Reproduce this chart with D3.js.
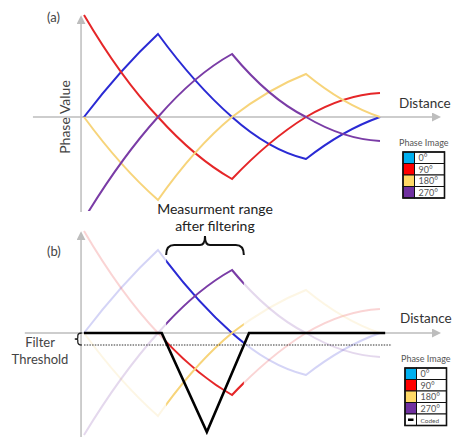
<!DOCTYPE html>
<html>
<head>
<meta charset="utf-8">
<script src="https://cdn.jsdelivr.net/npm/d3@7"></script>
<style>
  body { margin: 0; background: #fff; }
  svg { display: block; }
  text { font-family: Lato, "Open Sans", sans-serif; }
</style>
</head>
<body>
<div id="chart"></div>
<script>
// distance samples: segment ends and midpoints
var distance = [0, 0.5, 1, 1.5, 2, 2.5, 3, 3.5, 4];
var phase0   = [0, 0.45, 0.83, 0.37, 0, -0.27, -0.42, -0.17, 0];
var phase90  = [1.02, 0.45, 0, -0.36, -0.62, -0.27, 0, 0.17, 0.24];
var phase180 = [0, -0.46, -0.83, -0.36, 0, 0.25, 0.43, 0.17, 0];
var phase270 = [-1.02, -0.46, 0, 0.37, 0.63, 0.25, 0, -0.17, -0.24];

var phaseNames = ["0°", "90°", "180°", "270°"];
var lineColors = ["#2a2ad4", "#e52628", "#f7d47a", "#7a3ca6"];
var swatchColors = ["#00b0f0", "#ff0000", "#ffd966", "#7030a0"];

// coded (filter) line and threshold
var filterDist = [0, 1.05, 1.66, 2.23, 4.07];
var filterVal  = [0, 0, -0.99, 0, 0];
var thresholdVal = -0.12;
var measureRange = [1.11, 2.16];

var width = 453, height = 437;

var svg = d3.select("#chart")
  .append("svg")
  .attr("width", width)
  .attr("height", height);

var x = d3.scaleLinear().domain([0, 4]).range([84, 380]);
var yA = d3.scaleLinear().domain([-1, 1]).range([217, 17]);
var yB = d3.scaleLinear().domain([-1, 1]).range([433, 233]);

var series = [phase0, phase90, phase180, phase270];

var defs = svg.append("defs");
defs.append("marker")
  .attr("id", "arrow")
  .attr("viewBox", "0 0 10 10")
  .attr("refX", 8).attr("refY", 5)
  .attr("markerWidth", 9).attr("markerHeight", 9)
  .attr("markerUnits", "userSpaceOnUse")
  .attr("orient", "auto")
  .append("path")
  .attr("d", "M0,0 L10,5 L0,10 Z")
  .attr("fill", "#bdbdbd");

defs.append("clipPath").attr("id", "clipA")
  .append("rect")
  .attr("x", 0).attr("y", yA(1.04))
  .attr("width", width).attr("height", yA(-0.94) - yA(1.04));

defs.append("clipPath").attr("id", "clipRange")
  .append("rect")
  .attr("x", x(measureRange[0])).attr("y", 0)
  .attr("width", x(measureRange[1]) - x(measureRange[0])).attr("height", height);

// quadratic piece through each midpoint
function curvePath(xs, ys, y) {
  var p = d3.path();
  p.moveTo(x(xs[0]), y(ys[0]));
  for (var i = 1; i + 1 < xs.length; i += 2) {
    var sx = x(xs[i-1]), sy = y(ys[i-1]);
    var mx = x(xs[i]), my = y(ys[i]);
    var ex = x(xs[i+1]), ey = y(ys[i+1]);
    p.quadraticCurveTo(2*mx - (sx+ex)/2, 2*my - (sy+ey)/2, ex, ey);
  }
  return p.toString();
}

function drawAxes(y, xStart, yTop, yBottom) {
  svg.append("line")
    .attr("x1", x(xStart)).attr("x2", x(4.8))
    .attr("y1", y(0)).attr("y2", y(0))
    .attr("stroke", "#bdbdbd").attr("stroke-width", 1.5)
    .attr("marker-end", "url(#arrow)");
  svg.append("line")
    .attr("x1", x(-0.04)).attr("x2", x(-0.04))
    .attr("y1", y(yBottom)).attr("y2", y(yTop))
    .attr("stroke", "#bdbdbd").attr("stroke-width", 1.5)
    .attr("marker-end", "url(#arrow)");
}

function drawLegend(gx, gy, items) {
  var rowH = 11.5, swW = 11.5, labW = 30;
  var g = svg.append("g").attr("transform", "translate(" + gx + "," + gy + ")");
  g.append("text")
    .attr("x", (swW + labW) / 2).attr("y", -6)
    .attr("text-anchor", "middle")
    .attr("font-size", 9).attr("fill", "#555")
    .text("Phase Image");
  var row = g.selectAll("g.row").data(items).enter()
    .append("g").attr("class", "row")
    .attr("transform", function(d, i) { return "translate(0," + i * rowH + ")"; });
  row.append("rect")
    .attr("width", swW).attr("height", rowH)
    .attr("fill", function(d) { return d.color; })
    .attr("stroke", "#111").attr("stroke-width", 1);
  row.append("rect")
    .attr("x", swW).attr("width", labW).attr("height", rowH)
    .attr("fill", "#fff")
    .attr("stroke", "#111").attr("stroke-width", 1);
  row.filter(function(d) { return d.dash; })
    .append("line")
    .attr("x1", 3).attr("x2", swW - 3)
    .attr("y1", rowH / 2).attr("y2", rowH / 2)
    .attr("stroke", "#000").attr("stroke-width", 2.5);
  row.append("text")
    .attr("x", swW + 4).attr("y", rowH / 2 + 3.3)
    .attr("font-size", function(d) { return d.dash ? 6.5 : 9; })
    .attr("fill", "#555")
    .text(function(d) { return d.name; });
  g.append("rect")
    .attr("width", swW + labW).attr("height", rowH * items.length)
    .attr("fill", "none").attr("stroke", "#111").attr("stroke-width", 1.6);
}

// ---------- panel (a) ----------
drawAxes(yA, -0.69, 1.0, -0.95);

svg.append("g").attr("clip-path", "url(#clipA)")
  .selectAll("path")
  .data(series)
  .enter()
  .append("path")
  .attr("d", function(d) { return curvePath(distance, d, yA); })
  .attr("fill", "none")
  .attr("stroke", function(d, i) { return lineColors[i]; })
  .attr("stroke-width", 2);

svg.append("text").attr("x", 47).attr("y", 22)
  .attr("font-size", 13).attr("fill", "#444").text("(a)");

svg.append("text")
  .attr("transform", "translate(70," + yA(0) + ") rotate(-90)")
  .attr("text-anchor", "middle")
  .attr("font-size", 14).attr("fill", "#444")
  .text("Phase Value");

svg.append("text").attr("x", 399).attr("y", yA(0.09))
  .attr("font-size", 13.5).attr("fill", "#333").text("Distance");

drawLegend(403, 152, phaseNames.map(function(n, i) {
  return { name: n, color: swatchColors[i] };
}));

// ---------- panel (b) ----------
drawAxes(yB, -0.8, 1.0, -1.05);

svg.append("g")
  .selectAll("path")
  .data(series)
  .enter()
  .append("path")
  .attr("d", function(d) { return curvePath(distance, d, yB); })
  .attr("fill", "none")
  .attr("stroke", function(d, i) { return lineColors[i]; })
  .attr("stroke-opacity", 0.2)
  .attr("stroke-width", 2);

svg.append("g").attr("clip-path", "url(#clipRange)")
  .selectAll("path")
  .data(series)
  .enter()
  .append("path")
  .attr("d", function(d) { return curvePath(distance, d, yB); })
  .attr("fill", "none")
  .attr("stroke", function(d, i) { return lineColors[i]; })
  .attr("stroke-width", 2);

// threshold dotted line
svg.append("line")
  .attr("x1", x(0)).attr("x2", x(4.16))
  .attr("y1", yB(thresholdVal)).attr("y2", yB(thresholdVal))
  .attr("stroke", "#333").attr("stroke-width", 1)
  .attr("stroke-dasharray", "1.5,1.2");

// coded filter line
svg.append("path")
  .datum(d3.zip(filterDist, filterVal))
  .attr("d", d3.line()
    .x(function(d) { return x(d[0]); })
    .y(function(d) { return yB(d[1]); }))
  .attr("fill", "none")
  .attr("stroke", "#000")
  .attr("stroke-width", 2.6);

// threshold brace
var bx = x(-0.03), bt = yB(0), bb = yB(thresholdVal), bm = (bt + bb) / 2;
var tb = d3.path();
tb.moveTo(bx, bt);
tb.quadraticCurveTo(bx - 4, bt, bx - 4, bt + 3);
tb.lineTo(bx - 4, bm - 1);
tb.quadraticCurveTo(bx - 4, bm, bx - 7, bm);
tb.quadraticCurveTo(bx - 4, bm, bx - 4, bm + 1);
tb.lineTo(bx - 4, bb - 3);
tb.quadraticCurveTo(bx - 4, bb, bx, bb);
svg.append("path").attr("d", tb.toString())
  .attr("fill", "none").attr("stroke", "#222").attr("stroke-width", 1.3);

// measurement range brace
var l = x(measureRange[0]), r = x(measureRange[1]), c = (l + r) / 2;
var ylo = yB(0.78), yh = yB(0.88), ytop = yB(0.97);
var mb = d3.path();
mb.moveTo(l, ylo);
mb.quadraticCurveTo(l, yh, l + 8, yh);
mb.lineTo(c - 5, yh);
mb.quadraticCurveTo(c, yh, c, ytop);
mb.quadraticCurveTo(c, yh, c + 5, yh);
mb.lineTo(r - 8, yh);
mb.quadraticCurveTo(r, yh, r, ylo);
svg.append("path").attr("d", mb.toString())
  .attr("fill", "none").attr("stroke", "#111").attr("stroke-width", 2);

svg.append("text").attr("x", c + 10).attr("y", 214)
  .attr("text-anchor", "middle").attr("font-size", 14).attr("fill", "#222")
  .text("Measurment range");
svg.append("text").attr("x", c + 10).attr("y", 231)
  .attr("text-anchor", "middle").attr("font-size", 14).attr("fill", "#222")
  .text("after filtering");

svg.append("text").attr("x", 47).attr("y", 256)
  .attr("font-size", 13).attr("fill", "#444").text("(b)");

svg.append("text").attr("x", 400).attr("y", yB(0.1))
  .attr("font-size", 13.5).attr("fill", "#333").text("Distance");

svg.append("text").attr("x", 40).attr("y", 347)
  .attr("text-anchor", "middle").attr("font-size", 13).attr("fill", "#444")
  .text("Filter");
svg.append("text").attr("x", 40).attr("y", 364)
  .attr("text-anchor", "middle").attr("font-size", 13).attr("fill", "#444")
  .text("Threshold");

var legendB = phaseNames.map(function(n, i) {
  return { name: n, color: swatchColors[i] };
});
legendB.push({ name: "Coded", color: "#fff", dash: true });
drawLegend(405, 368, legendB);
</script>
</body>
</html>
